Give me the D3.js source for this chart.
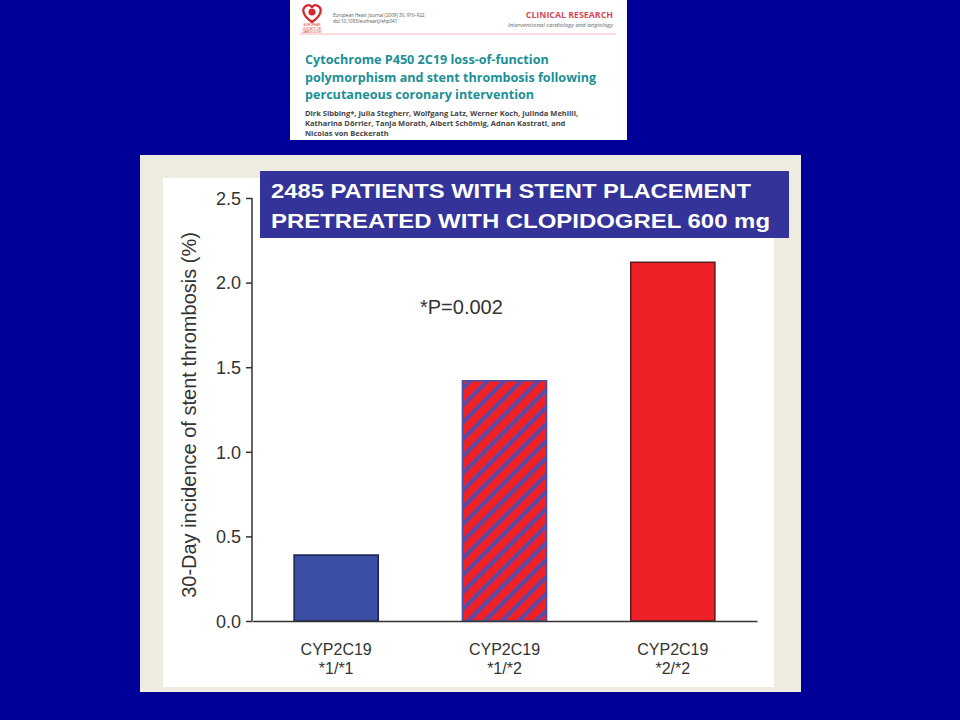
<!DOCTYPE html>
<html><head><meta charset="utf-8">
<script src="https://cdn.jsdelivr.net/npm/d3@7"></script>
<style>html,body{margin:0;padding:0;background:#000099;}svg{display:block;}</style>
</head><body>
<script>
const categories = ["CYP2C19\n*1/*1", "CYP2C19\n*1/*2", "CYP2C19\n*2/*2"];
const values = [0.39, 1.42, 2.12];
const yTicks = [0.0, 0.5, 1.0, 1.5, 2.0, 2.5];
const fills = ["#3a4fa3", "url(#hatch)", "#ee2226"];
const strokes = ["#1c2350", "#4a50a8", "#5a1a1a"];
const titleLines = ["2485 PATIENTS WITH STENT PLACEMENT", "PRETREATED WITH CLOPIDOGREL 600 mg"];
const paperTitle = ["Cytochrome P450 2C19 loss-of-function", "polymorphism and stent thrombosis following", "percutaneous coronary intervention"];
const paperAuthors = ["Dirk Sibbing*, Julia Stegherr, Wolfgang Latz, Werner Koch, Julinda Mehilli,", "Katharina Dörrier, Tanja Morath, Albert Schömig, Adnan Kastrati, and", "Nicolas von Beckerath"];

const svg = d3.select("body").append("svg").attr("width", 960).attr("height", 720);
svg.append("rect").attr("width", 960).attr("height", 720).attr("fill", "#000099");

// hatch pattern
const defs = svg.append("defs");
const pat = defs.append("pattern").attr("id", "hatch").attr("patternUnits", "userSpaceOnUse")
  .attr("width", 12).attr("height", 12).attr("patternTransform", "rotate(45)");
pat.append("rect").attr("width", 12).attr("height", 12).attr("fill", "#ee2226");
pat.append("rect").attr("x", 0).attr("width", 4).attr("height", 12).attr("fill", "#5a4aa8");

// journal header
const jh = svg.append("g");
jh.append("rect").attr("x", 290).attr("y", 0).attr("width", 337).attr("height", 140).attr("fill", "#fff");
jh.append("path").attr("d", "M312,22 C303,16 301,9 306,6 C309,4 312,6 312,8 C312,6 315,4 318,6 C323,9 321,16 312,22 Z")
  .attr("fill", "none").attr("stroke", "#d8242c").attr("stroke-width", 2.2);
jh.append("circle").attr("cx", 312).attr("cy", 12).attr("r", 3.5).attr("fill", "#d8242c");
["EUROPEAN", "SOCIETY OF", "CARDIOLOGY"].forEach((t, i) => jh.append("text").attr("x", 312).attr("y", 26 + i * 3.5)
  .attr("text-anchor", "middle").attr("font-size", 3).attr("fill", "#d8242c").attr("font-family", "Arial").text(t));
jh.append("text").attr("x", 333).attr("y", 17).attr("font-size", 4.6).attr("fill", "#555").attr("font-family", "Open Sans").text("European Heart Journal (2009) 30, 916–922");
jh.append("text").attr("x", 333).attr("y", 23).attr("font-size", 4.6).attr("fill", "#555").attr("font-family", "Open Sans").text("doi:10.1093/eurheartj/ehp041");
jh.append("text").attr("x", 613).attr("y", 18).attr("text-anchor", "end").attr("font-size", 8.8).attr("font-weight", "bold").attr("fill", "#d84a5a").attr("font-family", "Open Sans").text("CLINICAL RESEARCH");
jh.append("text").attr("x", 613).attr("y", 27).attr("text-anchor", "end").attr("font-size", 6).attr("font-style", "italic").attr("fill", "#666").attr("font-family", "Open Sans").text("Interventional cardiology and angiology");
jh.append("line").attr("x1", 300).attr("x2", 616).attr("y1", 34).attr("y2", 34).attr("stroke", "#f2b8c0").attr("stroke-width", 1);
paperTitle.forEach((t, i) => jh.append("text").attr("x", 305).attr("y", 64 + i * 17.5).attr("font-size", 12.6).attr("font-weight", "bold")
  .attr("fill", "#1b8f96").attr("font-family", "Open Sans").text(t));
paperAuthors.forEach((t, i) => jh.append("text").attr("x", 305).attr("y", 116 + i * 10).attr("font-size", 7.5).attr("font-weight", "bold")
  .attr("fill", "#444").attr("font-family", "Open Sans").text(t));

// panels
svg.append("rect").attr("x", 140).attr("y", 155).attr("width", 661).attr("height", 537).attr("fill", "#eeebe1");
svg.append("rect").attr("x", 163).attr("y", 178).attr("width", 611).attr("height", 509).attr("fill", "#ffffff");

// scales
const x = d3.scaleBand().domain(categories).range([252, 757]).paddingInner(0.5).paddingOuter(0.25);
const y = d3.scaleLinear().domain([0, 2.5]).range([621, 198]);

// bars
svg.append("g").selectAll("rect").data(values).join("rect")
  .attr("x", (d, i) => x(categories[i])).attr("width", x.bandwidth())
  .attr("y", d => y(d)).attr("height", d => y(0) - y(d))
  .attr("fill", (d, i) => fills[i]).attr("stroke", (d, i) => strokes[i]).attr("stroke-width", 1.5);

// y axis
const yAxis = svg.append("g").attr("transform", "translate(252,0)")
  .call(d3.axisLeft(y).tickValues(yTicks).tickFormat(d3.format(".1f")).tickSize(6).tickPadding(5));
yAxis.select(".domain").attr("stroke", "#333").attr("stroke-width", 1.5).attr("d", "M0," + y(2.5) + "V" + y(0));
yAxis.selectAll(".tick line").attr("stroke", "#333").attr("stroke-width", 1.5);
yAxis.selectAll(".tick text").attr("font-size", 18).attr("font-family", "Liberation Sans, Arial").attr("fill", "#333").attr("dy", "0.35em");

// x axis
const xAxis = svg.append("g").attr("transform", "translate(0,621)").call(d3.axisBottom(x).tickSize(0).tickFormat(""));
xAxis.select(".domain").attr("stroke", "#333").attr("stroke-width", 1.5);
categories.forEach(c => {
  const parts = c.split("\n");
  const t = svg.append("text").attr("x", x(c) + x.bandwidth() / 2).attr("text-anchor", "middle")
    .attr("font-size", 16).attr("font-family", "Liberation Sans, Arial").attr("fill", "#333");
  parts.forEach((p, i) => t.append("tspan").attr("x", x(c) + x.bandwidth() / 2).attr("y", 655 + i * 19).text(p));
});

// y title
svg.append("text").attr("transform", "translate(196,415) rotate(-90)").attr("text-anchor", "middle")
  .attr("font-size", 20).attr("font-family", "Liberation Sans, Arial").attr("fill", "#333")
  .text("30-Day incidence of stent thrombosis (%)");

// annotation
svg.append("text").attr("x", 420).attr("y", 314).attr("font-size", 20).attr("font-family", "Liberation Sans, Arial").attr("fill", "#333").text("*P=0.002");

// title box
svg.append("rect").attr("x", 260).attr("y", 171).attr("width", 529).attr("height", 67).attr("fill", "#333399");
const titleWidths = [480, 499];
titleLines.forEach((t, i) => svg.append("text").attr("x", 271).attr("y", 198 + i * 30).attr("font-size", 21).attr("font-weight", "bold")
  .attr("font-family", "Liberation Sans, Arial").attr("fill", "#fff")
  .attr("textLength", titleWidths[i]).attr("lengthAdjust", "spacingAndGlyphs").text(t));
</script>
</body></html>
